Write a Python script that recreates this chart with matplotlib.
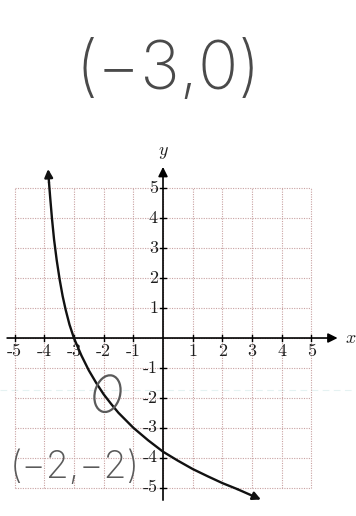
import matplotlib
matplotlib.use("Agg")
import matplotlib.pyplot as plt
from matplotlib.patches import Ellipse
from matplotlib import font_manager

# Curve of the graphed function, read point by point
curve_x = [-3.87, -3.84, -3.80, -3.74, -3.67, -3.58, -3.48, -3.38, -3.28, -3.15, -3.00,
           -2.75, -2.50, -2.25, -2.00, -1.75, -1.50, -1.00, -0.50, 0.00, 0.50, 1.00,
           1.50, 2.00, 2.50, 3.30]
curve_y = [5.65, 5.20, 4.70, 4.00, 3.30, 2.60, 1.95, 1.40, 0.95, 0.45, 0.00,
           -0.58, -1.08, -1.50, -1.88, -2.20, -2.50, -3.00, -3.42, -3.80, -4.10, -4.38,
           -4.62, -4.85, -5.05, -5.40]

x_ticks = [-5, -4, -3, -2, -1, 1, 2, 3, 4, 5]
y_ticks = [-5, -4, -3, -2, -1, 1, 2, 3, 4, 5]
x_tick_labels = ["-5", "-4", "-3", "-2", "-1", "1", "2", "3", "4", "5"]
y_tick_labels = ["-5", "-4", "-3", "-2", "-1", "1", "2", "3", "4", "5"]
grid_values = [-5, -4, -3, -2, -1, 0, 1, 2, 3, 4, 5]

# pencil notes
note_top = "(−3,0)"
note_bottom = "(−2,−2)"
circled_point = (-1.87, -1.86)

plt.rcParams["mathtext.fontset"] = "cm"

available = {f.name for f in font_manager.fontManager.ttflist}
hand_family = [f for f in ["Inter", "Lato", "DejaVu Sans"] if f in available] or ["DejaVu Sans"]

fig = plt.figure(figsize=(3.56, 5.16), dpi=100)
ax = fig.add_axes([0, 0, 1, 1])
ax.set_xlim(-5.49, 6.5)
ax.set_ylim(-5.95, 11.3)
ax.axis("off")

# faint scanner streak
ax.axhline(-1.74, color="#c6e3e3", lw=0.8, ls=(0, (6, 4)), alpha=0.45, zorder=0)

# dotted graph-paper grid
grid_kw = dict(color="#c9a2a2", lw=0.8, ls=(0, (1, 1.2)), zorder=1)
for v in grid_values:
    ax.plot([v, v], [-5, 5], **grid_kw)
    ax.plot([-5, 5], [v, v], **grid_kw)

# axes with arrowheads
ax.annotate("", xy=(5.88, 0), xytext=(-5.25, 0),
            arrowprops=dict(arrowstyle="-|>", color="black", lw=1.2,
                            mutation_scale=14, shrinkA=0, shrinkB=0), zorder=3)
ax.annotate("", xy=(0, 5.72), xytext=(0, -5.42),
            arrowprops=dict(arrowstyle="-|>", color="black", lw=1.2,
                            mutation_scale=14, shrinkA=0, shrinkB=0), zorder=3)

# tick marks and labels
for v, lab in zip(x_ticks, x_tick_labels):
    ax.plot([v, v], [-0.11, 0.11], color="black", lw=1.0, zorder=3)
    ax.text(v, -0.45, lab, ha="center", va="center", fontsize=13,
            family="cmr10", color="#1e1e1e")
for v, lab in zip(y_ticks, y_tick_labels):
    ax.plot([-0.11, 0.11], [v, v], color="black", lw=1.0, zorder=3)
    ax.text(-0.17, v, lab, ha="right", va="center", fontsize=13,
            family="cmr10", color="#1e1e1e")

ax.text(6.32, 0.0, "$x$", ha="center", va="center", fontsize=13, color="#1e1e1e")
ax.text(0.0, 6.22, "$y$", ha="center", va="center", fontsize=13, color="#1e1e1e")

# the graphed curve with arrows at both ends
ax.plot(curve_x[1:-1], curve_y[1:-1], color="#111111", lw=1.7,
        solid_capstyle="round", zorder=4)
ax.annotate("", xy=(curve_x[0], curve_y[0]), xytext=(curve_x[1], curve_y[1]),
            arrowprops=dict(arrowstyle="-|>", color="#111111", lw=1.7,
                            mutation_scale=12, shrinkA=0, shrinkB=0), zorder=4)
ax.annotate("", xy=(curve_x[-1], curve_y[-1]), xytext=(curve_x[-2], curve_y[-2]),
            arrowprops=dict(arrowstyle="-|>", color="#111111", lw=1.7,
                            mutation_scale=12, shrinkA=0, shrinkB=0), zorder=4)

# pencil notes
ax.text(0.17, 8.9, note_top, ha="center", va="center", fontsize=48,
        family=hand_family, fontweight="light", color="#4a4a4a")
ax.text(-2.96, -4.35, note_bottom, ha="center", va="center", fontsize=27,
        family=hand_family, fontweight="light", color="#5a5a5a")
ax.add_patch(Ellipse(circled_point, width=0.85, height=1.25, angle=-15,
                     fill=False, edgecolor="#5a5a5a", lw=1.6, zorder=5))

fig.savefig("out.png", dpi=100)
